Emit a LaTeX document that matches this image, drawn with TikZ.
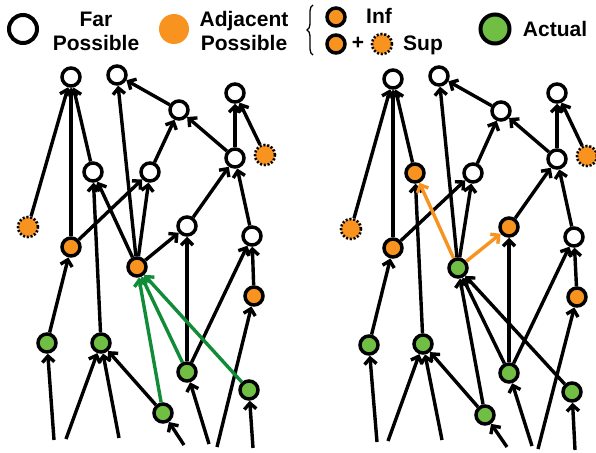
\documentclass[tikz,border=0pt]{standalone}
\usepackage{fontspec}
\setmainfont{Liberation Sans}
\usetikzlibrary{arrows.meta,decorations.pathreplacing}
\definecolor{adjorange}{RGB}{247,147,30}
\definecolor{actgreen}{RGB}{112,191,68}
\definecolor{linkgreen}{RGB}{16,140,56}

\begin{document}
\begin{tikzpicture}[x=1pt,y=-1pt,
  state/.style={circle,draw=black,line width=3.5pt,minimum size=18pt,inner sep=0pt},
  far/.style={state,fill=white},
  adj/.style={state,fill=adjorange},
  act/.style={state,fill=actgreen},
  sup/.style={circle,draw=black,fill=adjorange,line width=2.6pt,
    dash pattern=on 2pt off 1.8pt,minimum size=20pt,inner sep=0pt},
  link/.style={line width=3.4pt,-{Straight Barb[length=6pt,width=12pt]}},
  glink/.style={link,draw=linkgreen},
  olink/.style={link,draw=adjorange},
  lbl/.style={font=\fontsize{21}{24}\selectfont\bfseries,align=center,inner sep=0pt}]

\useasboundingbox (0,0) rectangle (596,452);
\fill[white] (0,0) rectangle (596,452);

% ---------- legend ----------
\node[far,minimum size=28pt,line width=4pt] (kfar) at (23,29) {};
\node[lbl] (tfar) at (96,31) {Far\\Possible};
\node[circle,fill=adjorange,minimum size=30pt,inner sep=0pt] (kadj) at (174,29) {};
\node[lbl] (tadj) at (244,31) {Adjacent\\Possible};
\coordinate (braceB) at (313,55);
\coordinate (braceT) at (313,5);
\draw[line width=1.3pt,decorate,decoration={brace,amplitude=6pt}] (braceB) -- (braceT);
\node[adj] (kinf) at (336,17) {};
\node[lbl,anchor=base] (tinf) at (379,24) {Inf};
\node[adj] (kinfb) at (336,44) {};
\node[lbl] (tplus) at (358,43) {+};
\node[sup] (ksup) at (382,44) {};
\node[lbl,anchor=base] (tsup) at (423,50) {Sup};
\node[act,minimum size=29pt,line width=4pt] (kact) at (495,29) {};
\node[lbl,anchor=base] (tact) at (555,37) {Actual};

% ---------- left graph ----------
\node[far] (a1) at (71,77) {};
\node[far] (a2) at (117,75) {};
\node[far] (a3) at (179,110) {};
\node[far] (a4) at (235,93) {};
\node[far] (a5) at (93,172) {};
\node[far] (a6) at (150,172) {};
\node[far] (a7) at (235,158) {};
\node[sup] (as1) at (265,155) {};
\node[sup] (as2) at (28,227) {};
\node[far] (a8) at (187,226) {};
\node[far] (a9) at (252,236) {};
\node[adj] (ao1) at (71,247) {};
\node[adj] (ao2) at (137,267) {};
\node[adj] (ao3) at (254,296) {};
\node[act] (ag1) at (47,343) {};
\node[act] (ag2) at (101,343) {};
\node[act] (ag3) at (187,372) {};
\node[act] (ag4) at (249,390) {};
\node[act] (ag5) at (163,413) {};
\coordinate (af1) at (54,440);
\coordinate (af2) at (66,439);
\coordinate (af3) at (119,438);
\coordinate (af4) at (184,445);
\coordinate (af5) at (209,444);
\coordinate (af6) at (217,447);
\coordinate (af7) at (253,448);

\draw[link] (as2) -- (a1);
\draw[link] (ao1) -- (a1);
\draw[link] (a5) -- (a1);
\draw[link] (ao2) -- (a2);
\draw[link] (a3) -- (a2);
\draw[link] (a6) -- (a3);
\draw[link] (a7) -- (a3);
\draw[link] (a7) -- (a4);
\draw[link] (as1) -- (a4);
\draw[link] (a8) -- (a7);
\draw[link] (a9) -- (a7);
\draw[link] (ao1) -- (a6);
\draw[link] (ao2) -- (a6);
\draw[link] (ao2) -- (a8);
\draw[link] (ag2) -- (a5);
\draw[link] (ao2) -- (a5);
\draw[link] (ag3) -- (a8);
\draw[link] (ag3) -- (a9);
\draw[link] (ao3) -- (a9);
\draw[link] (ag1) -- (ao1);
\draw[link] (ag5) -- (ag2);
\draw[link] (af1) -- (ag1);
\draw[link] (af2) -- (ag2);
\draw[link] (af3) -- (ag2);
\draw[link] (af4) -- (ag5);
\draw[link] (af5) -- (ag3);
\draw[link] (af6) -- (ao3);
\draw[link] (af7) -- (ag4);
\draw[glink] (ag5) -- (ao2);
\draw[glink] (ag3) -- (ao2);
\draw[glink] (ag4) -- (ao2);

% ---------- right graph ----------
\node[far] (b1) at (393,79) {};
\node[far] (b2) at (439,76) {};
\node[far] (b3) at (501,111) {};
\node[far] (b4) at (557,93) {};
\node[far] (b7) at (557,159) {};
\node[sup] (bs1) at (587,156) {};
\node[adj] (bo5) at (415,173) {};
\node[far] (b6) at (473,173) {};
\node[sup] (bs2) at (351,229) {};
\node[adj] (bo1) at (393,248) {};
\node[adj] (bo6) at (509,227) {};
\node[far] (b9) at (574,237) {};
\node[act] (bg6) at (458,268) {};
\node[adj] (bo3) at (577,297) {};
\node[act] (bg1) at (369,345) {};
\node[act] (bg2) at (423,344) {};
\node[act] (bg3) at (509,373) {};
\node[act] (bg4) at (572,392) {};
\node[act] (bg5) at (485,415) {};
\coordinate (bf1) at (377,442);
\coordinate (bf2) at (388,441);
\coordinate (bf3) at (442,440);
\coordinate (bf4) at (507,447);
\coordinate (bf5) at (532,446);
\coordinate (bf6) at (538,449);
\coordinate (bf7) at (575,450);

\draw[link] (bs2) -- (b1);
\draw[link] (bo1) -- (b1);
\draw[link] (bo5) -- (b1);
\draw[link] (bg6) -- (b2);
\draw[link] (b3) -- (b2);
\draw[link] (b6) -- (b3);
\draw[link] (b7) -- (b3);
\draw[link] (b7) -- (b4);
\draw[link] (bs1) -- (b4);
\draw[link] (bo6) -- (b7);
\draw[link] (b9) -- (b7);
\draw[link] (bo1) -- (b6);
\draw[link] (bg6) -- (b6);
\draw[link] (bg2) -- (bo5);
\draw[link] (bg3) -- (bo6);
\draw[link] (bg3) -- (b9);
\draw[link] (bo3) -- (b9);
\draw[link] (bg1) -- (bo1);
\draw[link] (bg5) -- (bg2);
\draw[link] (bg5) -- (bg6);
\draw[link] (bg3) -- (bg6);
\draw[link] (bg4) -- (bg6);
\draw[link] (bf1) -- (bg1);
\draw[link] (bf2) -- (bg2);
\draw[link] (bf3) -- (bg2);
\draw[link] (bf4) -- (bg5);
\draw[link] (bf5) -- (bg3);
\draw[link] (bf6) -- (bo3);
\draw[link] (bf7) -- (bg4);
\draw[olink] (bg6) -- (bo5);
\draw[olink] (bg6) -- (bo6);

\end{tikzpicture}
\end{document}
